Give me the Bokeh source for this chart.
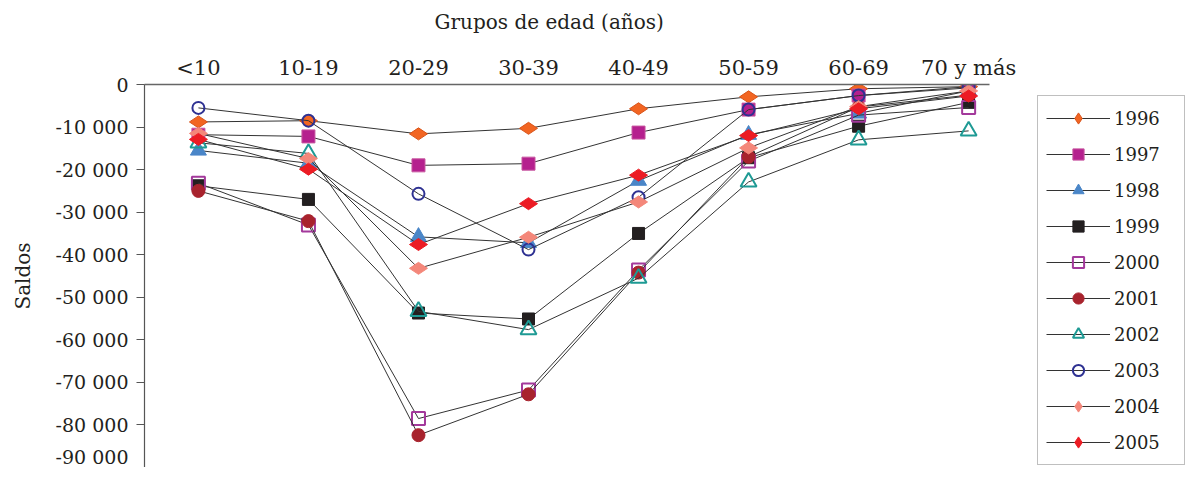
import math
from bokeh.plotting import figure
from bokeh.models import (Range1d, FixedTicker, SingleIntervalTicker, Legend, LegendItem,
                          CustomJSTickFormatter, Title)
from bokeh.embed import file_html
from bokeh.resources import INLINE

# ---------------- data ----------------
grupos = ["<10", "10-19", "20-29", "30-39", "40-49", "50-59", "60-69", "70 y más"]
anios = ["1996", "1997", "1998", "1999", "2000", "2001", "2002", "2003", "2004", "2005"]

s1996 = [-8800, -8500, -11600, -10300, -5700, -2900, -1000, -500]
s1997 = [-11800, -12200, -19000, -18600, -11300, -5900, -2600, -800]
s1998 = [-15500, -18500, -35800, -37200, -22600, -11800, -6800, -1500]
s1999 = [-23800, -27000, -53700, -55100, -35000, -17200, -9800, -4200]
s2000 = [-23200, -33000, -78500, -71800, -43600, -18000, -7200, -5400]
s2001 = [-25000, -32100, -82400, -72800, -44200, -17000, -5300, -2500]
s2002 = [-13700, -16200, -53300, -57600, -45500, -22900, -13000, -10900]
s2003 = [-5500, -8500, -25700, -38800, -26500, -5900, -2600, -500]
s2004 = [-11500, -17400, -43200, -35900, -27600, -14900, -5200, -1500]
s2005 = [-12900, -19900, -37600, -28000, -21300, -12000, -5700, -2700]

series = [s1996, s1997, s1998, s1999, s2000, s2001, s2002, s2003, s2004, s2005]

FONT = "DejaVu Serif"
TXT = "#231F20"

# marker styles per year: (marker, fill, line, line_width, size, angle)
estilos = [
    ("diamond", "#F26522", "#D9541A", 1, 18, math.pi / 2),
    ("square", "#B5208E", "#C8559F", 1, 13, 0),
    ("triangle", "#4A86C8", "#4A86C8", 1, 16, 0),
    ("square", "#231F20", "#231F20", 1, 12, 0),
    ("square", None, "#A3399B", 2, 13, 0),
    ("circle", "#A8232D", "#A8232D", 1, 13, 0),
    ("triangle", None, "#1E9A94", 2, 16, 0),
    ("circle", None, "#2E3192", 2, 12, 0),
    ("diamond", "#F4877A", "#F4877A", 1, 18, math.pi / 2),
    ("diamond", "#EC1C24", "#EC1C24", 1, 18, math.pi / 2),
]

xs = list(range(len(grupos)))

p = figure(width=1186, height=467, output_backend="svg", toolbar_location=None,
           x_range=Range1d(-0.49, 8.98), y_range=Range1d(-90000, 0),
           x_axis_location="above",
           min_border_left=144, min_border_top=84, min_border_right=0,
           min_border_bottom=0)
p.outline_line_color = None
p.xgrid.visible = False
p.ygrid.visible = False

# top (category) axis
xa = p.xaxis[0]
xa.ticker = FixedTicker(ticks=xs)
xa.bounds = (-0.49, 7.19)
xa.major_label_overrides = {i: g for i, g in enumerate(grupos)}
xa.major_tick_out = 0
xa.major_tick_in = 0
xa.minor_tick_out = 0
xa.minor_tick_in = 0
xa.axis_line_color = "#666666"
xa.axis_line_width = 1.5
xa.major_label_text_font = FONT
xa.major_label_text_font_size = "21px"
xa.major_label_text_color = TXT
xa.major_label_standoff = 5

# small spacer between the category labels and the axis title
espaciador = Title(text=" ", standoff=16, text_font=FONT, text_font_size="1px")
p.add_layout(espaciador, "above")

titulo = Title(text="Grupos de edad (años)", align="left", offset=290, standoff=0,
               text_font=FONT, text_font_size="20px", text_font_style="normal",
               text_color=TXT)
p.add_layout(titulo, "above")

# left axis
ya = p.yaxis[0]
ya.ticker = SingleIntervalTicker(interval=10000, num_minor_ticks=0)
ya.formatter = CustomJSTickFormatter(code="""
const a = Math.abs(Math.round(tick)).toString().replace(/\\B(?=(\\d{3})+(?!\\d))/g, ' ');
return (tick < 0 ? '-' : '') + a;
""")
ya.major_tick_out = 8
ya.major_tick_in = 0
ya.minor_tick_out = 0
ya.minor_tick_in = 0
ya.axis_line_color = "#555555"
ya.axis_line_width = 1.2
ya.major_tick_line_color = "#555555"
ya.major_label_text_font = FONT
ya.major_label_text_font_size = "19px"
ya.major_label_text_color = TXT
ya.major_label_standoff = 8
ya.axis_label = "Saldos"
ya.axis_label_text_font = FONT
ya.axis_label_text_font_size = "20px"
ya.axis_label_text_font_style = "normal"
ya.axis_label_text_color = TXT
ya.axis_label_standoff = 18

items = []
for anio, vals, (mk, fill, line, lw, sz, ang) in zip(anios, series, estilos):
    r1 = p.line(xs, vals, line_color="#333333", line_width=1)
    r2 = p.scatter(xs, vals, marker=mk, size=sz, angle=ang,
                   fill_color=fill if fill else "white",
                   fill_alpha=1 if fill else 0,
                   line_color=line, line_width=lw)
    items.append(LegendItem(label=anio, renderers=[r1, r2]))

legend = Legend(items=items, location=(893, 2))
legend.padding = 8
legend.spacing = 8
legend.glyph_height = 28
legend.glyph_width = 64
legend.label_standoff = 4
legend.label_width = 62
legend.label_text_font = FONT
legend.label_text_font_size = "18px"
legend.label_text_color = TXT
legend.border_line_color = "#808080"
legend.border_line_width = 1.5
legend.background_fill_color = "white"
legend.background_fill_alpha = 1
legend.margin = 0
p.add_layout(legend, "center")

open("out.html", "w").write(file_html(p, INLINE))
